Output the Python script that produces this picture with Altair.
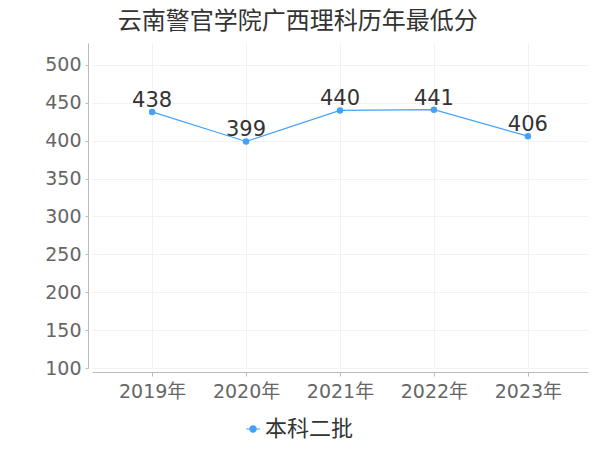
import altair as alt
import pandas as pd

years = ["2019年", "2020年", "2021年", "2022年", "2023年"]
scores = [438, 399, 440, 441, 406]
series = ["本科二批"] * 5
y_ticks = [100, 150, 200, 250, 300, 350, 400, 450, 500]

df = pd.DataFrame({"year": years, "score": scores, "type": series})

FONT = "DejaVu Sans, Noto Sans CJK SC"
BLUE = "#42a2fb"

legend_path = "M-1,0L1,0M-0.45,0A0.45,0.45,0,1,1,0.45,0A0.45,0.45,0,1,1,-0.45,0Z"

x = alt.X("year:N", sort=years, title=None,
          scale=alt.Scale(type="point", padding=0.64),
          axis=alt.Axis(labelAngle=0, labelFontSize=19, labelColor="#666", labelFont=FONT,
                        domainColor="#bbb", tickColor="#bbb", tickSize=4, offset=4,
                        grid=True, gridColor="#f2f2f2", labelPadding=6))
y = alt.Y("score:Q", title=None,
          scale=alt.Scale(domain=[100, 529], nice=False, zero=False),
          axis=alt.Axis(values=y_ticks, labelFontSize=19, labelColor="#666", labelFont=FONT,
                        domainColor="#bbb", tickColor="#bbb", tickSize=3, offset=4,
                        grid=True, gridColor="#f2f2f2", labelPadding=4))
color = alt.Color("type:N", scale=alt.Scale(range=[BLUE]),
                  legend=alt.Legend(title=None, orient="none", legendX=150, legendY=375,
                                    symbolType=legend_path, symbolSize=196, symbolStrokeWidth=1.2,
                                    symbolFillColor=BLUE, symbolStrokeColor=BLUE,
                                    labelFontSize=22, labelColor="#333", labelFont=FONT,
                                    labelOffset=1))

base = alt.Chart(df)
line = base.mark_line(strokeWidth=1.2).encode(x=x, y=y, color=color)
pts = base.mark_point(filled=True, size=42, opacity=1).encode(x=x, y=y, color=color)
labels = base.mark_text(dy=-11, fontSize=21, color="#333", font=FONT).encode(
    x=x, y=y, text="score:Q")

chart = (line + pts + labels).properties(
    width=496, height=325,
    title=alt.TitleParams("云南警官学院广西理科历年最低分", anchor="start", dx=73,
                          fontSize=24, fontWeight="normal", color="#333", font=FONT, offset=9),
    autosize=alt.AutoSizeParams(type="none"),
    padding={"left": 84, "top": 35, "right": 4, "bottom": 74},
).configure_view(stroke=None)

chart.save("out.html", embed_options={"renderer": "svg", "actions": False})
